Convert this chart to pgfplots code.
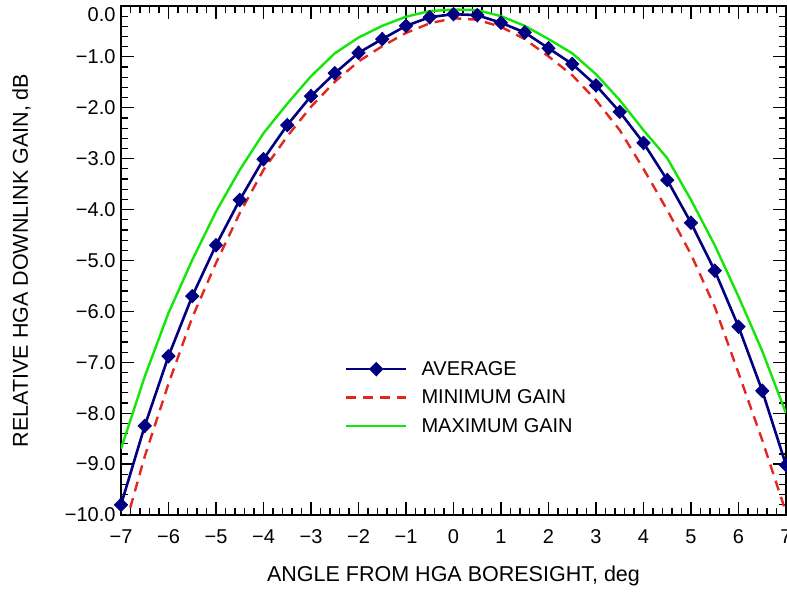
\documentclass[border=0pt]{standalone}
\usepackage{fontspec}
\setmainfont{Liberation Sans}
\usepackage{pgfplots}
\pgfplotsset{compat=1.18}
\definecolor{avgc}{RGB}{0,0,128}
\definecolor{minc}{RGB}{225,40,30}
\definecolor{maxc}{RGB}{20,230,10}
\begin{document}
\begin{tikzpicture}
\begin{axis}[
  name=ax,
  scale only axis,
  width=665pt, height=509pt,
  xmin=-7, xmax=7, ymin=-10, ymax=0,
  xtick={-7,-6,-5,-4,-3,-2,-1,0,1,2,3,4,5,6,7},
  xticklabels={−7,−6,−5,−4,−3,−2,−1,0,1,2,3,4,5,6,7},
  ytick={-10,-9,-8,-7,-6,-5,-4,-3,-2,-1,0},
  yticklabels={−10.0,−9.0,−8.0,−7.0,−6.0,−5.0,−4.0,−3.0,−2.0,−1.0,\rule{0pt}{32pt}0.0},
  minor x tick num=4,
  minor y tick num=4,
  tick align=inside,
  major tick length=13pt,
  minor tick length=7pt,
  every tick/.style={black, line width=1.2pt},
  axis line style={line width=2pt},
  tick label style={font=\fontsize{20}{24}\selectfont},
  xticklabel style={yshift=-11pt},
  yticklabel style={xshift=-2pt},
  label style={font=\fontsize{21.5}{26}\selectfont},
  xlabel={ANGLE FROM HGA BORESIGHT, deg},
  ylabel={RELATIVE HGA DOWNLINK GAIN, dB},
  xlabel style={at={(axis description cs:0.5,0)}, anchor=center, yshift=-61pt},
  ylabel style={at={(axis description cs:-0.1496,0.5)}, anchor=center},
  legend style={draw=none, fill=none, at={(0.332,0.310)}, anchor=north west,
    font=\fontsize{20}{24}\selectfont, row sep=9pt},
  legend cell align=left,
  legend image code/.code={\draw[mark repeat=2,mark phase=2,#1] plot coordinates {(0pt,0pt) (30pt,0pt) (60pt,0pt)};\path (72pt,0pt);},
]
\addplot[color=avgc, line width=2.6pt, mark=diamond*, mark size=5.5pt, mark options={solid, fill=avgc, xscale=1.3}] coordinates {
(-7,-9.80) (-6.5,-8.25) (-6,-6.88) (-5.5,-5.70) (-5,-4.70) (-4.5,-3.81) (-4,-3.01)
(-3.5,-2.34) (-3,-1.77) (-2.5,-1.32) (-2,-0.92) (-1.5,-0.65) (-1,-0.39) (-0.5,-0.22)
(0,-0.16) (0.5,-0.18) (1,-0.33) (1.5,-0.52) (2,-0.83) (2.5,-1.14) (3,-1.56)
(3.5,-2.08) (4,-2.69) (4.5,-3.42) (5,-4.26) (5.5,-5.20) (6,-6.30) (6.5,-7.56) (7,-9.02)
};
\addlegendentry{AVERAGE}
\addplot[color=minc, line width=2.4pt, dash pattern=on 10pt off 7pt, restrict y to domain=-10.6:0.1] coordinates {
(-7,-10.5) (-6.5,-8.85) (-6,-7.42) (-5.5,-6.12) (-5,-5.05) (-4.5,-4.07) (-4,-3.22)
(-3.5,-2.56) (-3,-1.98) (-2.5,-1.49) (-2,-1.09) (-1.5,-0.79) (-1,-0.53) (-0.5,-0.34)
(0,-0.24) (0.5,-0.27) (1,-0.41) (1.5,-0.65) (2,-0.99) (2.5,-1.36) (3,-1.85)
(3.5,-2.44) (4,-3.20) (4.5,-4.01) (5,-4.88) (5.5,-5.91) (6,-7.21) (6.5,-8.53) (7,-9.95)
};
\addlegendentry{MINIMUM GAIN}
\addplot[color=maxc, line width=2.4pt] coordinates {
(-7,-8.70) (-6.5,-7.28) (-6,-6.03) (-5.5,-4.99) (-5,-4.04) (-4.5,-3.22) (-4,-2.50)
(-3.5,-1.92) (-3,-1.38) (-2.5,-0.93) (-2,-0.62) (-1.5,-0.39) (-1,-0.21) (-0.5,-0.10)
(0,-0.07) (0.5,-0.08) (1,-0.20) (1.5,-0.39) (2,-0.65) (2.5,-0.93) (3,-1.34)
(3.5,-1.85) (4,-2.44) (4.5,-2.99) (5,-3.81) (5.5,-4.70) (6,-5.71) (6.5,-6.78) (7,-8.00)
};
\addlegendentry{MAXIMUM GAIN}
\end{axis}
\pgfresetboundingbox
\path[use as bounding box] ([xshift=-121pt,yshift=-77pt]ax.south west) rectangle ([xshift=1pt,yshift=6pt]ax.north east);
\end{tikzpicture}
\end{document}
